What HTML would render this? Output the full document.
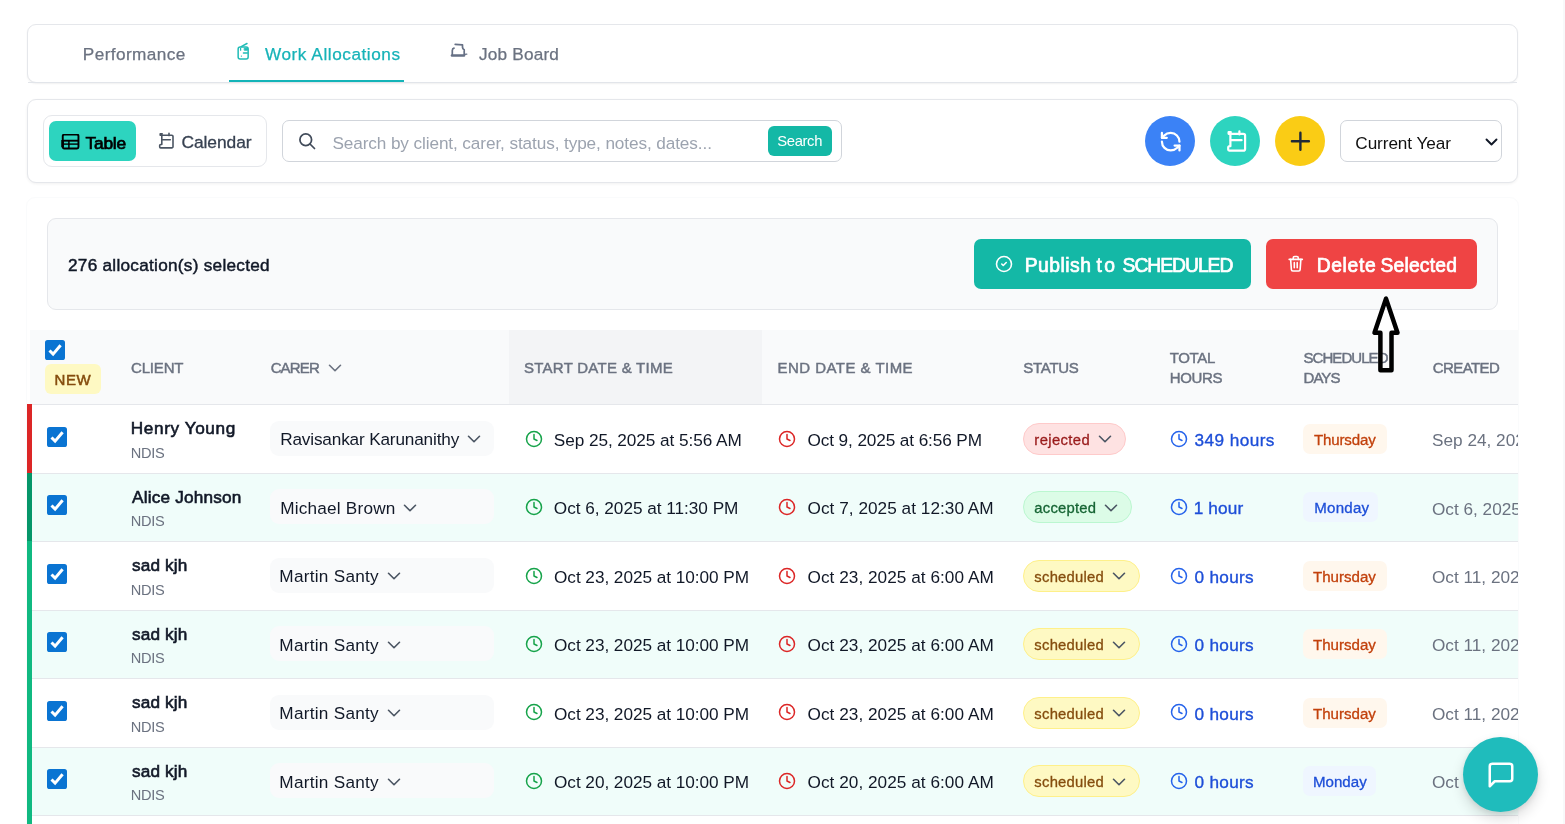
<!DOCTYPE html>
<html lang="en">
<head>
<meta charset="utf-8">
<title>Work Allocations</title>
<style>
*{box-sizing:border-box;margin:0;padding:0}
html,body{width:1565px;height:824px;overflow:hidden;background:#fff}
body{position:relative;font-family:"Liberation Sans",Arial,sans-serif;color:#111827;-webkit-font-smoothing:antialiased}
.abs{position:absolute}
.t{white-space:nowrap;line-height:1;display:block}
svg{display:block}

/* tabs card */
.tabs{position:absolute;left:27px;top:24px;width:1491px;height:59px;background:#fff;border:1px solid #e5e7eb;border-radius:9px;box-shadow:0 1px 2px rgba(0,0,0,.06)}
.tabs .line{position:absolute;left:0;right:0;bottom:-1px;height:1px;background:#e2e5ea}
.tab{position:absolute;top:0;height:57px;display:flex;align-items:center}
.tab .t{position:relative;top:1px;font-size:17.2px;color:#6b7280;-webkit-text-stroke:.25px currentColor}
.tab.active .t{color:#17b3b8}
.tab.active::after{content:"";position:absolute;left:0;right:0;bottom:0;height:2.2px;background:#14b4b8}

/* toolbar card */
.toolbar{position:absolute;left:27px;top:99px;width:1491px;height:84px;background:#fff;border:1px solid #e5e7eb;border-radius:9px;box-shadow:0 1px 3px rgba(0,0,0,.06)}
.toggle{position:absolute;left:15.4px;top:15.4px;width:224px;height:52px;border:1px solid #e5e7eb;border-radius:9px;background:#fff}
.tbtn{position:absolute;left:5px;top:5px;width:87px;height:40px;background:#2dd4bf;border-radius:7px}
.search{position:absolute;left:254.2px;top:20.2px;width:560px;height:42px;border:1px solid #d1d5db;border-radius:7px;background:#fff}
.sbtn{position:absolute;right:9px;top:5px;width:64px;height:30px;background:#14b8a6;border-radius:6px;color:#fff}
.circle{position:absolute;top:15.9px;width:50px;height:50px;border-radius:50%}
.select{position:absolute;left:1312.2px;top:20.2px;width:162px;height:42px;border:1px solid #d1d5db;border-radius:7px;background:#fff}

/* list card */
.list{position:absolute;left:26px;top:197px;width:1493px;height:700px;background:#fff;border:1px solid #fafbfc;border-radius:9px;overflow:hidden}
.selbar{position:absolute;left:47px;top:218px;width:1451px;height:92px;background:#f9fafb;border:1px solid #e5e7eb;border-radius:9px}
.btn{position:absolute;top:20px;height:50px;border-radius:7px;color:#fff}
.thead{position:absolute;left:30px;top:330px;width:1488px;height:75px;background:#f9fafb;border-bottom:1px solid #e5e7eb}
.th{position:absolute;font-size:15px;font-weight:400;-webkit-text-stroke:.45px currentColor;color:#6b7280;letter-spacing:.5px;white-space:nowrap;line-height:20px}
.chevh{width:22px;height:22px}
.tablewrap{position:absolute;left:27px;top:0;width:1491px;height:824px;overflow:hidden;pointer-events:none}
.row{position:absolute;left:0;width:1600px;height:68.45px;border-bottom:1px solid #e5e7eb}
.row .bar{position:absolute;left:0;top:-1px;width:5px;bottom:0}
.ri{position:absolute;left:0;top:0;height:68.45px;width:100%}
.cb{width:20px;height:20px}
.rcb{position:absolute;left:20px;top:22.3px}
.cname{position:absolute;left:104px;top:16px;font-size:17.2px;font-weight:400;-webkit-text-stroke:.6px #111827;color:#111827}
.ctype{position:absolute;left:104px;top:41.6px;font-size:14.6px;color:#6b7280}
.carer{position:absolute;left:243px;top:16.6px;width:224px;height:35px;background:#f9fafb;border-radius:9px;display:flex;align-items:center;padding-left:10.5px}
.carer-t{font-size:17.2px;color:#111827;position:relative;top:1.4px}
.chev{width:22px;height:22px;margin-left:3.6px;position:relative;top:.8px}
.dt{position:absolute;top:0;height:68.45px;display:flex;align-items:center}
.dts{left:498px}.dte{left:751.5px}
.dte .clk{margin-left:-1px;margin-right:12px}
.clk{width:18px;height:18px;margin-right:11px;position:relative;top:0px}
.dt-t{font-size:17.2px;color:#111827;position:relative;top:1.8px}
.status{position:absolute;left:996px;top:18.3px;height:32px;border:1px solid;border-radius:16px;display:flex;align-items:center;padding-left:10px;padding-right:9.3px}
.st-t{position:relative;top:1.7px;font-size:14.8px;-webkit-text-stroke:.3px currentColor}
.chev2{width:22px;height:22px;margin-left:3.6px;position:relative;top:.6px}
.hrs{position:absolute;left:1143px;top:0;height:68.45px;display:flex;align-items:center}
.clk2{width:18px;height:18px;margin-right:6.5px}
.hrs-t{position:relative;top:1.8px;font-size:17.2px;color:#1d4ed8;-webkit-text-stroke:.35px currentColor}
.day{position:absolute;left:1275.9px;top:19.3px;height:30px;border-radius:7px;display:flex;align-items:center;padding:0 11px 0 10.1px}
.day.d-Monday{padding-right:9px}
.day-t{position:relative;top:0.6px;font-size:15.1px;-webkit-text-stroke:.3px currentColor}
.created{position:absolute;left:1405px;top:27.7px;font-size:17.2px;color:#6b7280}
.fab{position:absolute;left:1463px;top:736.7px;width:75px;height:75px;border-radius:50%;background:#1fbcbc;box-shadow:0 7px 14px rgba(0,0,0,.14),0 2px 5px rgba(0,0,0,.08)}
#r5-created{word-spacing:1.6px}
#t-perf{letter-spacing:0.414px;margin-left:-0.18px}
#t-work{letter-spacing:0.552px;margin-left:-5.49px}
#t-job{letter-spacing:0.190px;margin-left:18.81px}
#t-cal{letter-spacing:-0.056px;margin-left:0.00px}
#t-ph{letter-spacing:-0.103px;margin-left:-0.81px}
#t-sbtn{letter-spacing:-0.360px;margin-left:-0.90px}
#t-year{letter-spacing:-0.082px;margin-left:-0.90px}
#t-sel{letter-spacing:0.270px;margin-left:0.00px}
#t-new{letter-spacing:-0.540px;margin-left:0.00px}
#th-client{letter-spacing:-0.180px;margin-left:0.00px}
#th-carer{letter-spacing:-0.846px;margin-left:0.63px}
#th-start{letter-spacing:0.263px;margin-left:0.00px}
#th-end{letter-spacing:0.464px;margin-left:0.00px}
#th-status{letter-spacing:-0.288px;margin-left:0.36px}
#th-total{letter-spacing:-0.300px;margin-left:0.63px}
#th-sched{letter-spacing:-0.945px;margin-left:0.54px}
#th-created{letter-spacing:-0.570px;margin-left:0.72px}
#r0-type{letter-spacing:-0.300px;margin-left:-0.18px}
#r0-carer{letter-spacing:-0.158px;margin-left:-0.36px}
#r0-start{letter-spacing:-0.060px;margin-left:-0.18px}
#r0-end{letter-spacing:-0.106px;margin-left:0.00px}
#r0-st{letter-spacing:0.386px;margin-left:0.36px}
#r0-hrs{letter-spacing:0.417px;margin-left:0.09px}
#r0-day{letter-spacing:-0.182px;margin-left:1.08px}
#r0-created{letter-spacing:0.000px;margin-left:0.09px}
#r1-carer{letter-spacing:0.210px;margin-left:-0.36px}
#r1-start{letter-spacing:-0.020px;margin-left:-0.18px}
#r1-end{letter-spacing:0.037px;margin-left:0.00px}
#r1-st{letter-spacing:0.231px;margin-left:0.36px}
#r1-hrs{letter-spacing:0.162px;margin-left:-0.81px}
#r1-day{letter-spacing:0.234px;margin-left:1.26px}
#r2-start{letter-spacing:-0.039px;margin-left:0.00px}
#r2-end{letter-spacing:0.041px;margin-left:0.00px}
#r2-st{letter-spacing:0.236px;margin-left:0.36px}
#r2-hrs{letter-spacing:0.300px;margin-left:0.09px}
#t-table{letter-spacing:-0.225px;margin-left:0.90px}
#r0-name{letter-spacing:0.594px;margin-left:-0.18px}
#r1-name{letter-spacing:0.195px;margin-left:1.08px}
#r2-name{letter-spacing:0.120px;margin-left:1.08px}
#r2-carer{letter-spacing:0.263px;margin-left:-1.17px}
#t-pub2{letter-spacing:2.430px;margin-left:5.09px}
#t-pub3{letter-spacing:-1.012px;margin-left:5.09px}
#t-del2{letter-spacing:0.204px;margin-left:4.10px}
#t-pub1{letter-spacing:0.510px;margin-left:0.63px}
#t-del1{letter-spacing:0.666px;margin-left:0.63px}
#r3-start{letter-spacing:-0.039px;margin-left:0.00px}
#r4-start{letter-spacing:-0.039px;margin-left:0.00px}
#r5-start{letter-spacing:-0.039px;margin-left:0.00px}
#r6-start{letter-spacing:-0.039px;margin-left:0.00px}
#r3-end{letter-spacing:0.041px;margin-left:0.00px}
#r4-end{letter-spacing:0.041px;margin-left:0.00px}
#r5-end{letter-spacing:0.041px;margin-left:0.00px}
#r6-end{letter-spacing:0.041px;margin-left:0.00px}
#r3-st{letter-spacing:0.236px;margin-left:0.36px}
#r4-st{letter-spacing:0.236px;margin-left:0.36px}
#r5-st{letter-spacing:0.236px;margin-left:0.36px}
#r6-st{letter-spacing:0.236px;margin-left:0.36px}
#r3-hrs{letter-spacing:0.300px;margin-left:0.09px}
#r4-hrs{letter-spacing:0.300px;margin-left:0.09px}
#r5-hrs{letter-spacing:0.300px;margin-left:0.09px}
#r6-hrs{letter-spacing:0.300px;margin-left:0.09px}
#r3-name{letter-spacing:0.120px;margin-left:1.08px}
#r4-name{letter-spacing:0.120px;margin-left:1.08px}
#r5-name{letter-spacing:0.120px;margin-left:1.08px}
#r6-name{letter-spacing:0.120px;margin-left:1.08px}
#r3-carer{letter-spacing:0.263px;margin-left:-1.17px}
#r4-carer{letter-spacing:0.263px;margin-left:-1.17px}
#r5-carer{letter-spacing:0.263px;margin-left:-1.17px}
#r6-carer{letter-spacing:0.263px;margin-left:-1.17px}
#r1-type{letter-spacing:-0.300px;margin-left:-0.18px}
#r2-type{letter-spacing:-0.300px;margin-left:-0.18px}
#r3-type{letter-spacing:-0.300px;margin-left:-0.18px}
#r4-type{letter-spacing:-0.300px;margin-left:-0.18px}
#r5-type{letter-spacing:-0.300px;margin-left:-0.18px}
#r6-type{letter-spacing:-0.300px;margin-left:-0.18px}

</style>
</head>
<body>

<div class="tabs">
  <div class="line"></div>
  <div class="tab" style="left:55px"><span class="t" id="t-perf">Performance</span></div>
  <div class="tab active" style="left:201px;width:175px">
    <svg style="position:absolute;left:7px;top:17px;width:14px;height:19px" viewBox="0 0 14 19" fill="none" stroke="#20bcb6" stroke-width="1.5" stroke-linecap="round" stroke-linejoin="round"><rect x="2.15" y="5.05" width="10" height="11.9" rx="2"/><path d="M5.2 4.7 L11 1.5"/><path d="M8.6 6.2h3v2h-3z" fill="#20bcb6" stroke-width="1"/><path d="M4.6 6.4v1.8M7.4 11h4" stroke-width="1.3"/><circle cx="5.4" cy="14.1" r=".7" fill="#20bcb6" stroke="none"/></svg>
    <span class="t" id="t-work" style="margin-left:36px">Work Allocations</span>
  </div>
  <div class="tab" style="left:423px">
    <svg style="position:absolute;left:-1px;top:17px;width:18px;height:16px" viewBox="0 0 18 16" fill="none" stroke="#667085" stroke-width="1.7" stroke-linecap="round" stroke-linejoin="round"><path d="M5.2 2.4 L12.5 2.8 V5.4 Q12.6 7 14.2 7.7 V12.4"/><path d="M4 6.1 Q2.3 6.4 2.3 8.6 V12.4"/><path d="M2 13.5 H14" stroke-width="2.6"/><path d="M14.6 12.4 L16.8 12.1" stroke-width="1.4"/></svg>
    <span class="t" id="t-job" style="margin-left:28px">Job Board</span>
  </div>
</div>

<div class="toolbar">
  <div class="toggle">
    <div class="tbtn">
      <svg style="position:absolute;left:11.6px;top:12.5px;width:19px;height:17px" viewBox="0 0 19 17" fill="none" stroke="#000" stroke-width="1.9" stroke-linejoin="round"><rect x="1.75" y="0.55" width="15.7" height="13.9" rx="1.4"/><path d="M1.75 6.7H17.45"/><path d="M1.75 10.1H17.45" stroke-width="1.4"/><path d="M7.9 6.7V14.4" stroke-width="1.5"/><path d="M1.6 6V13.2" stroke-width="2.6"/></svg>
      <span class="t" id="t-table" style="position:absolute;left:35.2px;top:13.5px;font-size:17.4px;font-weight:400;-webkit-text-stroke:.7px #000;color:#000">Table</span>
    </div>
    <svg style="position:absolute;left:114px;top:16px;width:17px;height:18px" viewBox="0 0 17 18" fill="none" stroke="#4b5563" stroke-width="1.6" stroke-linecap="round" stroke-linejoin="round"><path d="M3.8 3.2 H13.8 a1.2 1.2 0 0 1 1.2 1.2 V14.7 a1.2 1.2 0 0 1 -1.2 1.2 H2.6 a0.9 0.9 0 0 1 -0.9 -0.9 V13.6 a1.1 1.1 0 0 1 1.1 -1.1 H3.8 Z"/><path d="M3.9 3.2 H2.2 V1.9 H4.2"/><path d="M11 1.2 V3.6 M4.5 7.7 H12.3"/></svg>
    <span class="t" id="t-cal" style="position:absolute;left:137px;top:17.6px;font-size:17.4px;color:#374151;-webkit-text-stroke:.3px #374151">Calendar</span>
  </div>
  <div class="search">
    <svg style="position:absolute;left:13.7px;top:9.7px;width:20px;height:20px" viewBox="0 0 24 24" fill="none" stroke="#414b5a" stroke-width="2.1" stroke-linecap="round" stroke-linejoin="round"><circle cx="10.5" cy="10.5" r="7"/><path d="m21 21-5.4-5.4"/></svg>
    <span class="t" id="t-ph" style="position:absolute;left:50px;top:13.6px;font-size:17.2px;color:#9ca3af">Search by client, carer, status, type, notes, dates...</span>
    <div class="sbtn"><span class="t" id="t-sbtn" style="position:absolute;left:10px;top:8px;font-size:14.8px">Search</span></div>
  </div>
  <div class="circle" style="left:1117px;background:#3b82f6">
    <svg style="position:absolute;left:13.8px;top:13.8px;width:23.4px;height:23.4px" viewBox="0 0 24 24" fill="none" stroke="#fff" stroke-width="2.3" stroke-linecap="round" stroke-linejoin="round"><path d="M21 12a9 9 0 0 0-9-9 9.75 9.75 0 0 0-6.74 2.74L3 8"/><path d="M3 3v5h5"/><path d="M3 12a9 9 0 0 0 9 9 9.75 9.75 0 0 0 6.74-2.74L21 16"/><path d="M16 16h5v5"/></svg>
  </div>
  <div class="circle" style="left:1182px;background:#2dd4bf">
    <svg style="position:absolute;left:16px;top:13.5px;width:24px;height:25px" viewBox="0 0 24 25" fill="none" stroke="#fff" stroke-width="2.2" stroke-linecap="round" stroke-linejoin="round"><path d="M4.4 4.8 H17.4 a1.7 1.7 0 0 1 1.7 1.7 V19.9 a1.7 1.7 0 0 1 -1.7 1.7 H3.2 a1 1 0 0 1 -1 -1 V18.6 a1.4 1.4 0 0 1 1.4 -1.4 H4.4 Z"/><path d="M4.6 4.8 H2.6 V3.2 H4.8"/><path d="M4.8 11.2 H15.6 M13.4 2.3 V5.4"/></svg>
  </div>
  <div class="circle" style="left:1247px;background:#facc15">
    <svg style="position:absolute;left:13px;top:13.6px;width:24px;height:24px" viewBox="0 0 24 24" fill="none" stroke="#1f2937" stroke-width="2.4" stroke-linecap="round"><path d="M12.4 3.8v17M3.9 12.3h17"/></svg>
  </div>
  <div class="select">
    <span class="t" id="t-year" style="position:absolute;left:15px;top:13.8px;font-size:17.2px;color:#111">Current Year</span>
    <svg style="position:absolute;left:143.5px;top:15.4px;width:13px;height:10px" viewBox="0 0 13 10" fill="none" stroke="#111827" stroke-width="1.9" stroke-linecap="round" stroke-linejoin="round"><path d="M1.5 2.5 6.5 7.5 11.5 2.5"/></svg>
  </div>
</div>

<div class="list"></div>

<div class="selbar">
  <span class="t" id="t-sel" style="position:absolute;left:20px;top:38px;font-size:17.2px;color:#111827;-webkit-text-stroke:.45px #111827">276 allocation(s) selected</span>
  <div class="btn" style="left:926px;width:277px;background:#14b8a6">
    <svg style="position:absolute;left:21px;top:15.9px;width:18px;height:18px" viewBox="0 0 24 24" fill="none" stroke="#fff" stroke-width="2.1" stroke-linecap="round" stroke-linejoin="round"><circle cx="12" cy="12" r="10"/><path d="m9 12 2 2 4-4"/></svg>
    <span class="t" style="position:absolute;left:50px;top:17px;font-size:19.3px;-webkit-text-stroke:.7px #fff;display:flex"><span id="t-pub1">Publish</span> <span id="t-pub2">to</span> <span id="t-pub3">SCHEDULED</span></span>
  </div>
  <div class="btn" style="left:1218px;width:211px;background:#ef4444">
    <svg style="position:absolute;left:21.3px;top:15.9px;width:17.5px;height:17.5px" viewBox="0 0 24 24" fill="none" stroke="#fff" stroke-width="2.2" stroke-linecap="round" stroke-linejoin="round"><path d="M3 6h18"/><path d="M19 6l-1 14a2 2 0 0 1-2 2H8a2 2 0 0 1-2-2L5 6"/><path d="M8.5 6V4a2 2 0 0 1 2-2h3a2 2 0 0 1 2 2v2"/><path d="M10 10.5v7M14 10.5v7"/></svg>
    <span class="t" style="position:absolute;left:50px;top:17px;font-size:19.3px;-webkit-text-stroke:.7px #fff;display:flex"><span id="t-del1">Delete</span> <span id="t-del2">Selected</span></span>
  </div>
</div>

<div class="tablewrap">
<div class="thead" style="left:3px">
  <div style="position:absolute;left:479px;top:0;width:253px;height:74px;background:#f3f4f6"></div>
  <div style="position:absolute;left:15px;top:10px"><svg class="cb" viewBox="0 0 20 20"><rect x="0" y="0" width="20" height="20" rx="2.6" fill="#0a74d2"/><path d="M4.5 10.5 L8.1 14.1 L15.6 5.3" fill="none" stroke="#fff" stroke-width="3" stroke-linecap="butt" stroke-linejoin="miter"/></svg></div>
  <div style="position:absolute;left:15px;top:34px;width:56px;height:30px;background:#fef9c3;border-radius:6px"><span class="t" id="t-new" style="position:absolute;left:9.5px;top:8px;font-size:15px;-webkit-text-stroke:.5px #854d0e;color:#854d0e;letter-spacing:.55px">NEW</span></div>
  <div class="th" id="th-client" style="top:27.8px;left:101px">CLIENT</div>
  <div class="th" id="th-carer" style="top:27.8px;left:240px">CARER</div>
  <div style="position:absolute;left:293.9px;top:26.9px"><svg class="chevh" viewBox="0 0 24 24" fill="none" stroke="#6b7280" stroke-width="1.75" stroke-linecap="round" stroke-linejoin="round"><path d="m6 9 6 6 6-6"/></svg></div>
  <div class="th" id="th-start" style="top:27.8px;left:494px">START DATE &amp; TIME</div>
  <div class="th" id="th-end" style="top:27.8px;left:747.5px">END DATE &amp; TIME</div>
  <div class="th" id="th-status" style="top:27.8px;left:993px">STATUS</div>
  <div class="th" id="th-total" style="left:1139px;top:17.8px">TOTAL<br>HOURS</div>
  <div class="th" id="th-sched" style="left:1273px;top:17.8px">SCHEDULED<br>DAYS</div>
  <div class="th" id="th-created" style="top:27.8px;left:1402px">CREATED</div>
</div>

  <div class="row" style="top:405px;height:69px;background:#ffffff">
    <div class="bar" style="background:#dc2626"></div>
    <div class="ri" style="top:-0.6px">
    <div class="rcb"><svg class="cb" viewBox="0 0 20 20"><rect x="0" y="0" width="20" height="20" rx="2.6" fill="#0a74d2"/><path d="M4.5 10.5 L8.1 14.1 L15.6 5.3" fill="none" stroke="#fff" stroke-width="3" stroke-linecap="butt" stroke-linejoin="miter"/></svg></div>
    <div class="t cname" id="r0-name">Henry Young</div>
    <div class="t ctype" id="r0-type">NDIS</div>
    <div class="carer"><span class="t carer-t" id="r0-carer">Ravisankar Karunanithy</span><svg class="chev" viewBox="0 0 24 24" fill="none" stroke="#4b5563" stroke-width="1.75" stroke-linecap="round" stroke-linejoin="round"><path d="m6 9 6 6 6-6"/></svg></div>
    <div class="dt dts"><svg class="clk" viewBox="0 0 24 24" fill="none" stroke="#16a34a" stroke-width="2" stroke-linecap="round" stroke-linejoin="round"><circle cx="12" cy="12" r="10"/><path d="M12 6v6l4 2"/></svg><span class="t dt-t" id="r0-start">Sep 25, 2025 at 5:56 AM</span></div>
    <div class="dt dte"><svg class="clk" viewBox="0 0 24 24" fill="none" stroke="#dc2626" stroke-width="2" stroke-linecap="round" stroke-linejoin="round"><circle cx="12" cy="12" r="10"/><path d="M12 6v6l4 2"/></svg><span class="t dt-t" id="r0-end">Oct 9, 2025 at 6:56 PM</span></div>
    <div class="status st-rejected" style="background:#fee2e2;border-color:#fecaca;color:#991b1b"><span class="t st-t" id="r0-st">rejected</span><svg class="chev2" viewBox="0 0 24 24" fill="none" stroke="#4b5563" stroke-width="1.75" stroke-linecap="round" stroke-linejoin="round"><path d="m6 9 6 6 6-6"/></svg></div>
    <div class="hrs"><svg class="clk2" viewBox="0 0 24 24" fill="none" stroke="#2563eb" stroke-width="2" stroke-linecap="round" stroke-linejoin="round"><circle cx="12" cy="12" r="10"/><path d="M12 6v6l4 2"/></svg><span class="t hrs-t" id="r0-hrs">349 hours</span></div>
    <div class="day d-Thursday" style="background:#fff7ed;color:#c2410c"><span class="t day-t" id="r0-day">Thursday</span></div>
    <div class="t created" id="r0-created">Sep 24, 2025</div>
    </div>
  </div>
  <div class="row" style="top:474px;height:68px;background:#f0fdfa">
    <div class="bar" style="background:#059669"></div>
    <div class="ri" style="top:-1.15px">
    <div class="rcb"><svg class="cb" viewBox="0 0 20 20"><rect x="0" y="0" width="20" height="20" rx="2.6" fill="#0a74d2"/><path d="M4.5 10.5 L8.1 14.1 L15.6 5.3" fill="none" stroke="#fff" stroke-width="3" stroke-linecap="butt" stroke-linejoin="miter"/></svg></div>
    <div class="t cname" id="r1-name">Alice Johnson</div>
    <div class="t ctype" id="r1-type">NDIS</div>
    <div class="carer"><span class="t carer-t" id="r1-carer">Michael Brown</span><svg class="chev" viewBox="0 0 24 24" fill="none" stroke="#4b5563" stroke-width="1.75" stroke-linecap="round" stroke-linejoin="round"><path d="m6 9 6 6 6-6"/></svg></div>
    <div class="dt dts"><svg class="clk" viewBox="0 0 24 24" fill="none" stroke="#16a34a" stroke-width="2" stroke-linecap="round" stroke-linejoin="round"><circle cx="12" cy="12" r="10"/><path d="M12 6v6l4 2"/></svg><span class="t dt-t" id="r1-start">Oct 6, 2025 at 11:30 PM</span></div>
    <div class="dt dte"><svg class="clk" viewBox="0 0 24 24" fill="none" stroke="#dc2626" stroke-width="2" stroke-linecap="round" stroke-linejoin="round"><circle cx="12" cy="12" r="10"/><path d="M12 6v6l4 2"/></svg><span class="t dt-t" id="r1-end">Oct 7, 2025 at 12:30 AM</span></div>
    <div class="status st-accepted" style="background:#dcfce7;border-color:#bbf7d0;color:#166534"><span class="t st-t" id="r1-st">accepted</span><svg class="chev2" viewBox="0 0 24 24" fill="none" stroke="#4b5563" stroke-width="1.75" stroke-linecap="round" stroke-linejoin="round"><path d="m6 9 6 6 6-6"/></svg></div>
    <div class="hrs"><svg class="clk2" viewBox="0 0 24 24" fill="none" stroke="#2563eb" stroke-width="2" stroke-linecap="round" stroke-linejoin="round"><circle cx="12" cy="12" r="10"/><path d="M12 6v6l4 2"/></svg><span class="t hrs-t" id="r1-hrs">1 hour</span></div>
    <div class="day d-Monday" style="background:#eff6ff;color:#1d4ed8"><span class="t day-t" id="r1-day">Monday</span></div>
    <div class="t created" id="r1-created">Oct 6, 2025</div>
    </div>
  </div>
  <div class="row" style="top:542px;height:69px;background:#ffffff">
    <div class="bar" style="background:#10b981"></div>
    <div class="ri" style="top:-0.7px">
    <div class="rcb"><svg class="cb" viewBox="0 0 20 20"><rect x="0" y="0" width="20" height="20" rx="2.6" fill="#0a74d2"/><path d="M4.5 10.5 L8.1 14.1 L15.6 5.3" fill="none" stroke="#fff" stroke-width="3" stroke-linecap="butt" stroke-linejoin="miter"/></svg></div>
    <div class="t cname" id="r2-name">sad kjh</div>
    <div class="t ctype" id="r2-type">NDIS</div>
    <div class="carer"><span class="t carer-t" id="r2-carer">Martin Santy</span><svg class="chev" viewBox="0 0 24 24" fill="none" stroke="#4b5563" stroke-width="1.75" stroke-linecap="round" stroke-linejoin="round"><path d="m6 9 6 6 6-6"/></svg></div>
    <div class="dt dts"><svg class="clk" viewBox="0 0 24 24" fill="none" stroke="#16a34a" stroke-width="2" stroke-linecap="round" stroke-linejoin="round"><circle cx="12" cy="12" r="10"/><path d="M12 6v6l4 2"/></svg><span class="t dt-t" id="r2-start">Oct 23, 2025 at 10:00 PM</span></div>
    <div class="dt dte"><svg class="clk" viewBox="0 0 24 24" fill="none" stroke="#dc2626" stroke-width="2" stroke-linecap="round" stroke-linejoin="round"><circle cx="12" cy="12" r="10"/><path d="M12 6v6l4 2"/></svg><span class="t dt-t" id="r2-end">Oct 23, 2025 at 6:00 AM</span></div>
    <div class="status st-scheduled" style="background:#fef9c3;border-color:#fef08a;color:#854d0e"><span class="t st-t" id="r2-st">scheduled</span><svg class="chev2" viewBox="0 0 24 24" fill="none" stroke="#4b5563" stroke-width="1.75" stroke-linecap="round" stroke-linejoin="round"><path d="m6 9 6 6 6-6"/></svg></div>
    <div class="hrs"><svg class="clk2" viewBox="0 0 24 24" fill="none" stroke="#2563eb" stroke-width="2" stroke-linecap="round" stroke-linejoin="round"><circle cx="12" cy="12" r="10"/><path d="M12 6v6l4 2"/></svg><span class="t hrs-t" id="r2-hrs">0 hours</span></div>
    <div class="day d-Thursday" style="background:#fff7ed;color:#c2410c"><span class="t day-t" id="r2-day">Thursday</span></div>
    <div class="t created" id="r2-created">Oct 11, 2025</div>
    </div>
  </div>
  <div class="row" style="top:611px;height:68px;background:#f0fdfa">
    <div class="bar" style="background:#10b981"></div>
    <div class="ri" style="top:-1.25px">
    <div class="rcb"><svg class="cb" viewBox="0 0 20 20"><rect x="0" y="0" width="20" height="20" rx="2.6" fill="#0a74d2"/><path d="M4.5 10.5 L8.1 14.1 L15.6 5.3" fill="none" stroke="#fff" stroke-width="3" stroke-linecap="butt" stroke-linejoin="miter"/></svg></div>
    <div class="t cname" id="r3-name">sad kjh</div>
    <div class="t ctype" id="r3-type">NDIS</div>
    <div class="carer"><span class="t carer-t" id="r3-carer">Martin Santy</span><svg class="chev" viewBox="0 0 24 24" fill="none" stroke="#4b5563" stroke-width="1.75" stroke-linecap="round" stroke-linejoin="round"><path d="m6 9 6 6 6-6"/></svg></div>
    <div class="dt dts"><svg class="clk" viewBox="0 0 24 24" fill="none" stroke="#16a34a" stroke-width="2" stroke-linecap="round" stroke-linejoin="round"><circle cx="12" cy="12" r="10"/><path d="M12 6v6l4 2"/></svg><span class="t dt-t" id="r3-start">Oct 23, 2025 at 10:00 PM</span></div>
    <div class="dt dte"><svg class="clk" viewBox="0 0 24 24" fill="none" stroke="#dc2626" stroke-width="2" stroke-linecap="round" stroke-linejoin="round"><circle cx="12" cy="12" r="10"/><path d="M12 6v6l4 2"/></svg><span class="t dt-t" id="r3-end">Oct 23, 2025 at 6:00 AM</span></div>
    <div class="status st-scheduled" style="background:#fef9c3;border-color:#fef08a;color:#854d0e"><span class="t st-t" id="r3-st">scheduled</span><svg class="chev2" viewBox="0 0 24 24" fill="none" stroke="#4b5563" stroke-width="1.75" stroke-linecap="round" stroke-linejoin="round"><path d="m6 9 6 6 6-6"/></svg></div>
    <div class="hrs"><svg class="clk2" viewBox="0 0 24 24" fill="none" stroke="#2563eb" stroke-width="2" stroke-linecap="round" stroke-linejoin="round"><circle cx="12" cy="12" r="10"/><path d="M12 6v6l4 2"/></svg><span class="t hrs-t" id="r3-hrs">0 hours</span></div>
    <div class="day d-Thursday" style="background:#fff7ed;color:#c2410c"><span class="t day-t" id="r3-day">Thursday</span></div>
    <div class="t created" id="r3-created">Oct 11, 2025</div>
    </div>
  </div>
  <div class="row" style="top:679px;height:69px;background:#ffffff">
    <div class="bar" style="background:#10b981"></div>
    <div class="ri" style="top:-0.8px">
    <div class="rcb"><svg class="cb" viewBox="0 0 20 20"><rect x="0" y="0" width="20" height="20" rx="2.6" fill="#0a74d2"/><path d="M4.5 10.5 L8.1 14.1 L15.6 5.3" fill="none" stroke="#fff" stroke-width="3" stroke-linecap="butt" stroke-linejoin="miter"/></svg></div>
    <div class="t cname" id="r4-name">sad kjh</div>
    <div class="t ctype" id="r4-type">NDIS</div>
    <div class="carer"><span class="t carer-t" id="r4-carer">Martin Santy</span><svg class="chev" viewBox="0 0 24 24" fill="none" stroke="#4b5563" stroke-width="1.75" stroke-linecap="round" stroke-linejoin="round"><path d="m6 9 6 6 6-6"/></svg></div>
    <div class="dt dts"><svg class="clk" viewBox="0 0 24 24" fill="none" stroke="#16a34a" stroke-width="2" stroke-linecap="round" stroke-linejoin="round"><circle cx="12" cy="12" r="10"/><path d="M12 6v6l4 2"/></svg><span class="t dt-t" id="r4-start">Oct 23, 2025 at 10:00 PM</span></div>
    <div class="dt dte"><svg class="clk" viewBox="0 0 24 24" fill="none" stroke="#dc2626" stroke-width="2" stroke-linecap="round" stroke-linejoin="round"><circle cx="12" cy="12" r="10"/><path d="M12 6v6l4 2"/></svg><span class="t dt-t" id="r4-end">Oct 23, 2025 at 6:00 AM</span></div>
    <div class="status st-scheduled" style="background:#fef9c3;border-color:#fef08a;color:#854d0e"><span class="t st-t" id="r4-st">scheduled</span><svg class="chev2" viewBox="0 0 24 24" fill="none" stroke="#4b5563" stroke-width="1.75" stroke-linecap="round" stroke-linejoin="round"><path d="m6 9 6 6 6-6"/></svg></div>
    <div class="hrs"><svg class="clk2" viewBox="0 0 24 24" fill="none" stroke="#2563eb" stroke-width="2" stroke-linecap="round" stroke-linejoin="round"><circle cx="12" cy="12" r="10"/><path d="M12 6v6l4 2"/></svg><span class="t hrs-t" id="r4-hrs">0 hours</span></div>
    <div class="day d-Thursday" style="background:#fff7ed;color:#c2410c"><span class="t day-t" id="r4-day">Thursday</span></div>
    <div class="t created" id="r4-created">Oct 11, 2025</div>
    </div>
  </div>
  <div class="row" style="top:748px;height:68px;background:#f0fdfa">
    <div class="bar" style="background:#10b981"></div>
    <div class="ri" style="top:-1.35px">
    <div class="rcb"><svg class="cb" viewBox="0 0 20 20"><rect x="0" y="0" width="20" height="20" rx="2.6" fill="#0a74d2"/><path d="M4.5 10.5 L8.1 14.1 L15.6 5.3" fill="none" stroke="#fff" stroke-width="3" stroke-linecap="butt" stroke-linejoin="miter"/></svg></div>
    <div class="t cname" id="r5-name">sad kjh</div>
    <div class="t ctype" id="r5-type">NDIS</div>
    <div class="carer"><span class="t carer-t" id="r5-carer">Martin Santy</span><svg class="chev" viewBox="0 0 24 24" fill="none" stroke="#4b5563" stroke-width="1.75" stroke-linecap="round" stroke-linejoin="round"><path d="m6 9 6 6 6-6"/></svg></div>
    <div class="dt dts"><svg class="clk" viewBox="0 0 24 24" fill="none" stroke="#16a34a" stroke-width="2" stroke-linecap="round" stroke-linejoin="round"><circle cx="12" cy="12" r="10"/><path d="M12 6v6l4 2"/></svg><span class="t dt-t" id="r5-start">Oct 20, 2025 at 10:00 PM</span></div>
    <div class="dt dte"><svg class="clk" viewBox="0 0 24 24" fill="none" stroke="#dc2626" stroke-width="2" stroke-linecap="round" stroke-linejoin="round"><circle cx="12" cy="12" r="10"/><path d="M12 6v6l4 2"/></svg><span class="t dt-t" id="r5-end">Oct 20, 2025 at 6:00 AM</span></div>
    <div class="status st-scheduled" style="background:#fef9c3;border-color:#fef08a;color:#854d0e"><span class="t st-t" id="r5-st">scheduled</span><svg class="chev2" viewBox="0 0 24 24" fill="none" stroke="#4b5563" stroke-width="1.75" stroke-linecap="round" stroke-linejoin="round"><path d="m6 9 6 6 6-6"/></svg></div>
    <div class="hrs"><svg class="clk2" viewBox="0 0 24 24" fill="none" stroke="#2563eb" stroke-width="2" stroke-linecap="round" stroke-linejoin="round"><circle cx="12" cy="12" r="10"/><path d="M12 6v6l4 2"/></svg><span class="t hrs-t" id="r5-hrs">0 hours</span></div>
    <div class="day d-Monday" style="background:#eff6ff;color:#1d4ed8"><span class="t day-t" id="r5-day">Monday</span></div>
    <div class="t created" id="r5-created">Oct 11, 2025</div>
    </div>
  </div>
  <div class="row" style="top:816px;height:68px;background:#ffffff">
    <div class="bar" style="background:#10b981"></div>
    <div class="ri" style="top:-0.9px">
    <div class="rcb"><svg class="cb" viewBox="0 0 20 20"><rect x="0" y="0" width="20" height="20" rx="2.6" fill="#0a74d2"/><path d="M4.5 10.5 L8.1 14.1 L15.6 5.3" fill="none" stroke="#fff" stroke-width="3" stroke-linecap="butt" stroke-linejoin="miter"/></svg></div>
    <div class="t cname" id="r6-name">sad kjh</div>
    <div class="t ctype" id="r6-type">NDIS</div>
    <div class="carer"><span class="t carer-t" id="r6-carer">Martin Santy</span><svg class="chev" viewBox="0 0 24 24" fill="none" stroke="#4b5563" stroke-width="1.75" stroke-linecap="round" stroke-linejoin="round"><path d="m6 9 6 6 6-6"/></svg></div>
    <div class="dt dts"><svg class="clk" viewBox="0 0 24 24" fill="none" stroke="#16a34a" stroke-width="2" stroke-linecap="round" stroke-linejoin="round"><circle cx="12" cy="12" r="10"/><path d="M12 6v6l4 2"/></svg><span class="t dt-t" id="r6-start">Oct 20, 2025 at 10:00 PM</span></div>
    <div class="dt dte"><svg class="clk" viewBox="0 0 24 24" fill="none" stroke="#dc2626" stroke-width="2" stroke-linecap="round" stroke-linejoin="round"><circle cx="12" cy="12" r="10"/><path d="M12 6v6l4 2"/></svg><span class="t dt-t" id="r6-end">Oct 20, 2025 at 6:00 AM</span></div>
    <div class="status st-scheduled" style="background:#fef9c3;border-color:#fef08a;color:#854d0e"><span class="t st-t" id="r6-st">scheduled</span><svg class="chev2" viewBox="0 0 24 24" fill="none" stroke="#4b5563" stroke-width="1.75" stroke-linecap="round" stroke-linejoin="round"><path d="m6 9 6 6 6-6"/></svg></div>
    <div class="hrs"><svg class="clk2" viewBox="0 0 24 24" fill="none" stroke="#2563eb" stroke-width="2" stroke-linecap="round" stroke-linejoin="round"><circle cx="12" cy="12" r="10"/><path d="M12 6v6l4 2"/></svg><span class="t hrs-t" id="r6-hrs">0 hours</span></div>
    <div class="day d-Monday" style="background:#eff6ff;color:#1d4ed8"><span class="t day-t" id="r6-day">Monday</span></div>
    <div class="t created" id="r6-created">Oct 11, 2025</div>
    </div>
  </div>
</div>

<!-- annotation arrow -->
<svg style="position:absolute;left:1368px;top:290px;width:36px;height:86px" viewBox="0 0 36 86" fill="none" stroke="#000" stroke-width="4.5" stroke-linejoin="round"><path d="M18 8.6 L6.5 42.8 H12.4 V80.3 H23.5 V42.8 H29.5 Z"/></svg>

<div style="position:absolute;left:1563px;top:0;width:2px;height:824px;background:#f8f9fa"></div>
<div class="fab">
  <svg style="position:absolute;left:23px;top:23.4px;width:30px;height:30px" viewBox="0 0 24 24" fill="none" stroke="#fff" stroke-width="2" stroke-linecap="round" stroke-linejoin="round"><path d="M21 15a2 2 0 0 1-2 2H7l-4 4V5a2 2 0 0 1 2-2h14a2 2 0 0 1 2 2z"/></svg>
</div>

</body>
</html>
